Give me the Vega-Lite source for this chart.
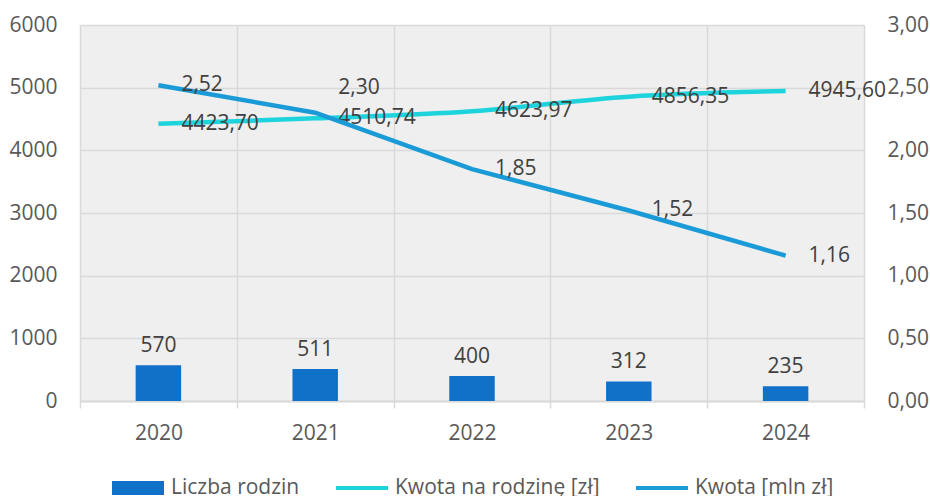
{
  "$schema": "https://vega.github.io/schema/vega-lite/v6.json",
  "width": 784,
  "height": 376,
  "autosize": {"type": "none"},
  "padding": {"left": 80, "top": 25, "right": 66, "bottom": 95},
  "background": "white",
  "config": {
    "locale": {"number": {"decimal": ",", "thousands": " ", "grouping": [3], "currency": ["", " zł"]}},
    "font": "Open Sans",
    "view": {"fill": "#efefef", "stroke": null},
    "axis": {"gridColor": "#d9d9d9", "gridWidth": 1.5, "labelFont": "Open Sans", "labelFontSize": 21, "labelColor": "#595959"}
  },
  "data": {
    "values": [
      {"Rok": "2020", "liczba": 570, "kwota_rodzina": 4423.70, "kwota_mln": 2.52},
      {"Rok": "2021", "liczba": 511, "kwota_rodzina": 4510.74, "kwota_mln": 2.30},
      {"Rok": "2022", "liczba": 400, "kwota_rodzina": 4623.97, "kwota_mln": 1.85},
      {"Rok": "2023", "liczba": 312, "kwota_rodzina": 4856.35, "kwota_mln": 1.52},
      {"Rok": "2024", "liczba": 235, "kwota_rodzina": 4945.60, "kwota_mln": 1.16}
    ]
  },
  "encoding": {
    "x": {
      "field": "Rok", "type": "nominal", "sort": null,
      "scale": {"paddingInner": 0, "paddingOuter": 0},
      "axis": {"title": null, "labelAngle": 0, "tickBand": "extent", "grid": true, "ticks": true, "tickSize": 7, "tickColor": "#d9d9d9", "tickWidth": 1.5, "domain": true, "domainColor": "#d9d9d9", "domainWidth": 2, "labelPadding": 14}
    }
  },
  "layer": [
    {
      "layer": [
        {
          "mark": {"type": "bar", "color": "#1170c8", "width": {"band": 0.29}},
          "encoding": {
            "y": {"field": "liczba", "type": "quantitative", "scale": {"domain": [0, 6000]},
              "axis": {"title": null, "values": [0, 1000, 2000, 3000, 4000, 5000, 6000], "format": "d", "domain": false, "ticks": false, "labelPadding": 23, "grid": true}}
          }
        },
        {
          "mark": {"type": "text", "align": "center", "baseline": "bottom", "dy": -9, "fontSize": 21, "color": "#404040"},
          "encoding": {
            "y": {"field": "liczba", "type": "quantitative"},
            "text": {"field": "liczba", "type": "quantitative", "format": "d"}
          }
        },
        {
          "mark": {"type": "line", "color": "#1dd3dc", "strokeWidth": 4.5, "interpolate": "catmull-rom"},
          "encoding": {
            "y": {"field": "kwota_rodzina", "type": "quantitative"}
          }
        },
        {
          "mark": {"type": "text", "align": "left", "baseline": "middle", "dx": 23, "fontSize": 21, "color": "#404040"},
          "encoding": {
            "y": {"field": "kwota_rodzina", "type": "quantitative"},
            "text": {"field": "kwota_rodzina", "type": "quantitative", "format": ".2f"}
          }
        },
        {
          "transform": [{"fold": ["liczba", "kwota_rodzina", "kwota_mln"], "as": ["seria", "wartosc"]}],
          "mark": {"type": "point", "filled": true, "opacity": 0},
          "encoding": {
            "y": {"field": "wartosc", "type": "quantitative"},
            "color": {
              "field": "seria", "type": "nominal",
              "scale": {"domain": ["liczba", "kwota_rodzina", "kwota_mln"], "range": ["#1170c8", "#1dd3dc", "#1a9bd7"]},
              "legend": {
                "title": null, "orient": "none", "legendX": 32, "legendY": 437, "direction": "horizontal",
                "labelExpr": "datum.label == 'liczba' ? 'Liczba rodzin' : datum.label == 'kwota_rodzina' ? 'Kwota na rodzinę [zł]' : 'Kwota [mln zł]'",
                "labelFontSize": 21, "labelColor": "#595959", "labelFont": "Open Sans", "labelLimit": 400,
                "symbolSize": 2704, "symbolStrokeWidth": 0,
                "labelOffset": 7, "columnPadding": 36,
                "encode": {"symbols": {"update": {"opacity": {"value": 1}, "fillOpacity": {"value": 1}, "strokeOpacity": {"value": 0}}}}
              }
            },
            "shape": {
              "field": "seria", "type": "nominal",
              "scale": {"domain": ["liczba", "kwota_rodzina", "kwota_mln"], "range": ["M-1,-0.27H1V0.27H-1Z", "M-1,-0.08H1V0.08H-1Z", "M-1,-0.08H1V0.08H-1Z"]}
            }
          }
        }
      ]
    },
    {
      "layer": [
        {
          "mark": {"type": "line", "color": "#1a9bd7", "strokeWidth": 4.5, "interpolate": "linear"},
          "encoding": {
            "y": {"field": "kwota_mln", "type": "quantitative", "scale": {"domain": [0, 3]},
              "axis": {"title": null, "orient": "right", "values": [0, 0.5, 1, 1.5, 2, 2.5, 3], "format": ".2f", "domain": false, "ticks": false, "labelPadding": 23, "grid": false}}
          }
        },
        {
          "transform": [{"filter": "datum.Rok != '2021'"}],
          "mark": {"type": "text", "align": "left", "baseline": "middle", "dx": 23, "fontSize": 21, "color": "#404040"},
          "encoding": {
            "y": {"field": "kwota_mln", "type": "quantitative"},
            "text": {"field": "kwota_mln", "type": "quantitative", "format": ".2f"}
          }
        },
        {
          "transform": [{"filter": "datum.Rok == '2021'"}],
          "mark": {"type": "text", "align": "left", "baseline": "middle", "dx": 23, "dy": -25, "fontSize": 21, "color": "#404040"},
          "encoding": {
            "y": {"field": "kwota_mln", "type": "quantitative"},
            "text": {"field": "kwota_mln", "type": "quantitative", "format": ".2f"}
          }
        }
      ]
    }
  ],
  "resolve": {"scale": {"y": "independent"}}
}
